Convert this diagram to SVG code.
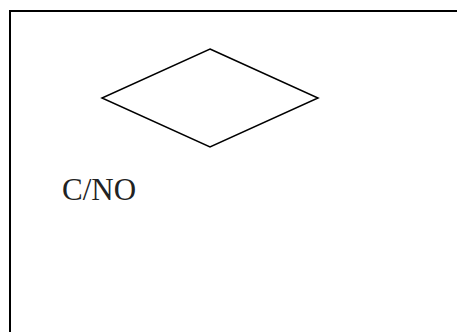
<svg xmlns="http://www.w3.org/2000/svg" width="457" height="332" viewBox="0 0 457 332">
<style>
.frame{fill:none;stroke:#000;stroke-width:2}
.shape{fill:#fff;stroke:#000;stroke-width:1.5}
.lbl{font-family:"Liberation Serif","Times New Roman",serif;font-size:31px;fill:#222}
</style>
<rect width="457" height="332" fill="#fff"/>
<rect class="frame" x="10" y="11" width="460" height="340"/>
<g id="decision">
<polygon class="shape" points="210,49 318,98 210,147 102,98"/>
</g>
<g id="label">
<text class="lbl" x="62" y="200">C/NO</text>
</g>
<g id="connectors"></g>
</svg>
